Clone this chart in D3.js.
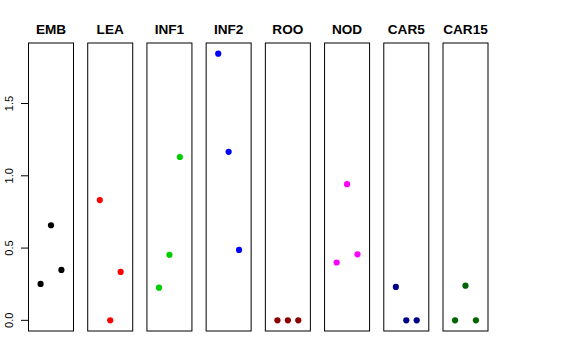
<!DOCTYPE html>
<html><head><meta charset="utf-8">
<script src="https://cdn.jsdelivr.net/npm/d3@7"></script>
<style>html,body{margin:0;padding:0;background:#fff;}</style>
</head><body>
<script>
const categories = ["EMB","LEA","INF1","INF2","ROO","NOD","CAR5","CAR15"];
const colors = ["#000000","#FF0000","#00CD00","#0000FF","#8B0000","#FF00FF","#00008B","#006400"];
const values = [
  [0.252, 0.658, 0.349],
  [0.832, 0.000, 0.335],
  [0.226, 0.453, 1.130],
  [1.845, 1.166, 0.487],
  [0.000, 0.000, 0.000],
  [0.400, 0.942, 0.457],
  [0.231, 0.000, 0.000],
  [0.000, 0.240, 0.000]
];
const yTicks = [0, 0.5, 1.0, 1.5];
const yTickLabels = ["0.0","0.5","1.0","1.5"];

(function () {
const W = 576, H = 360;
const svg = d3.select("body").append("svg").attr("width", W).attr("height", H);

const plotTop = 43, plotBottom = 331;
const band = d3.scaleBand().domain(categories).range([28.5, 488]).paddingInner(0.24).paddingOuter(0);
const ymax = d3.max(values.flat()), ymin = 0;
const ext = (ymax - ymin) * 0.04;
const y = d3.scaleLinear().domain([ymin - ext, ymax + ext]).range([plotBottom, plotTop]);

categories.forEach((c, i) => {
  const x0 = band(c), bw = band.bandwidth();
  const x = d3.scaleLinear().domain([-0.16, 4.16]).range([x0, x0 + bw]);
  const g = svg.append("g");
  g.append("rect").attr("x", x0).attr("y", plotTop).attr("width", bw).attr("height", plotBottom - plotTop)
    .attr("fill", "none").attr("stroke", "#000").attr("stroke-width", 1);
  g.append("text").attr("x", x0 + bw / 2).attr("y", 34).attr("text-anchor", "middle")
    .attr("font-family", "Liberation Sans, Arial, sans-serif").attr("font-weight", "bold")
    .attr("font-size", 13.6).text(c);
  g.selectAll("circle").data(values[i]).enter().append("circle")
    .attr("cx", (d, j) => x(j + 1)).attr("cy", d => y(d)).attr("r", 3.1)
    .attr("fill", colors[i]);
});

// y axis
const ax = svg.append("g");
const ax0 = band(categories[0]);
ax.append("line").attr("x1", ax0).attr("x2", ax0).attr("y1", y(0)).attr("y2", y(1.5))
  .attr("stroke", "#000");
yTicks.forEach((t, k) => {
  ax.append("line").attr("x1", ax0 - 7.5).attr("x2", ax0).attr("y1", y(t)).attr("y2", y(t)).attr("stroke", "#000");
  ax.append("text").attr("transform", `translate(13.3,${y(t)}) rotate(-90)`)
    .attr("text-anchor", "middle").attr("font-family", "Liberation Sans, Arial, sans-serif")
    .attr("font-size", 11).text(yTickLabels[k]);
});
})();
</script>
</body></html>
